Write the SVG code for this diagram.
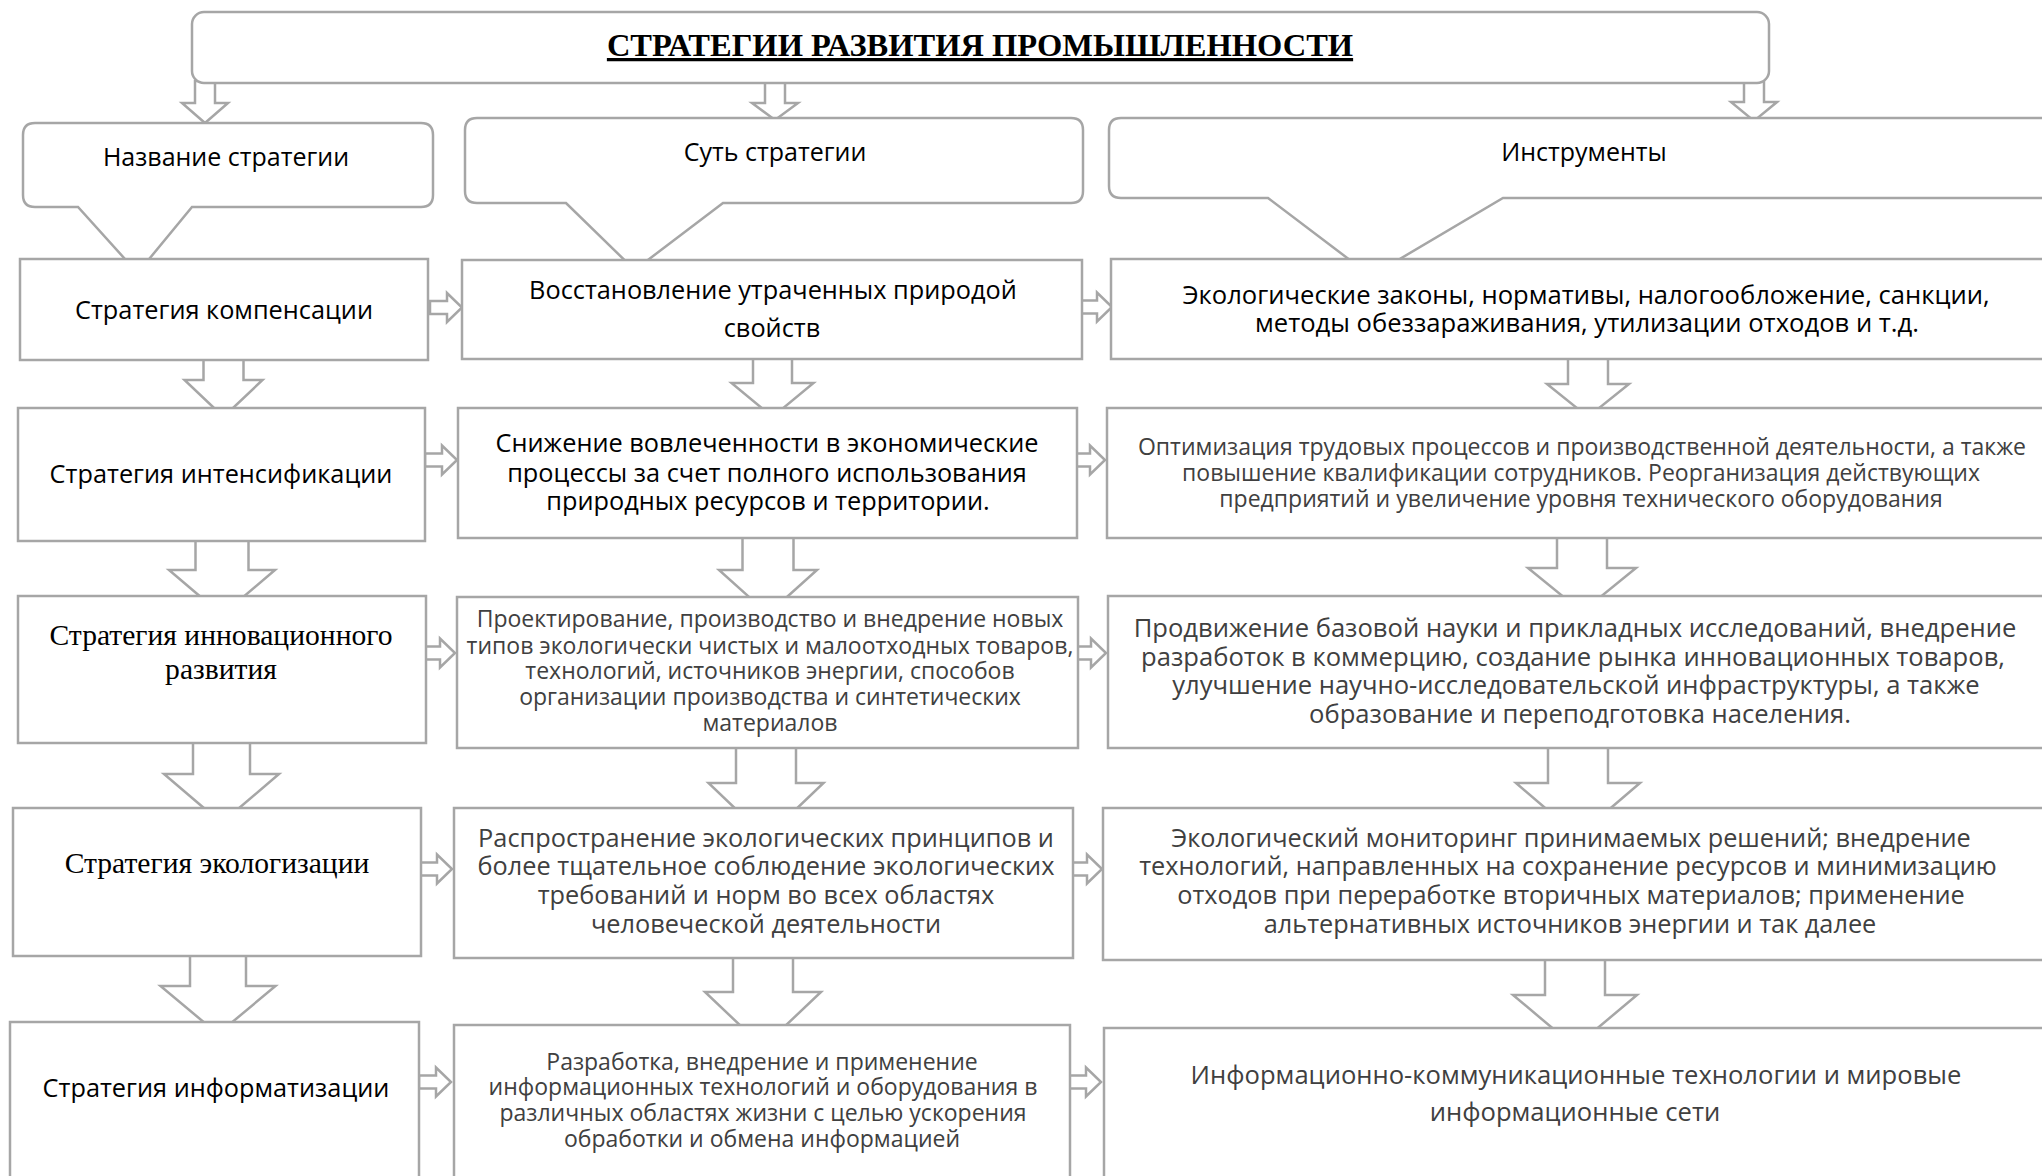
<svg xmlns="http://www.w3.org/2000/svg" xmlns:xlink="http://www.w3.org/1999/xlink" width="2042" height="1176" viewBox="0 0 2042 1176">
<style>
.box{fill:#fff;stroke:#a6a6a6;stroke-width:2.5}
.arr{fill:#fff;stroke:#a6a6a6;stroke-width:2.5;stroke-linejoin:miter}
text{font-family:"Open Sans","Noto Sans",sans-serif;text-anchor:middle}
.k{fill:#000}
.g{fill:#404040}
.s25{font-size:25.3px}
.s26{font-size:25.6px}
.s24{font-size:25px}
.s22{font-size:23px}
.serif{font-family:"Liberation Serif","Times New Roman",serif;font-size:29.6px;fill:#000}
.title{font-family:"Liberation Serif","Times New Roman",serif;font-weight:bold;font-size:32.5px;text-decoration:underline;fill:#000}
</style>
<defs>
<path id="harr" class="arr" d="M-32,-6.5H-15V-14.5L0,0L-15,14.5V6.5H-32Z"/>
</defs>
<rect width="2042" height="1176" fill="#fff"/>
<g id="connectors">
<polygon class="arr" points="195,81 195,103 182,103 205,123 228,103 215,103 215,81"/>
<polygon class="arr" points="765,81 765,103 752,103 775,120 798,103 785,103 785,81"/>
<polygon class="arr" points="1744,81 1744,102 1731,102 1754,121 1777,102 1764,102 1764,81"/>
<polygon class="arr" points="203.5,357 203.5,380 184.5,380 223.5,417 262.5,380 243.5,380 243.5,357"/>
<polygon class="arr" points="195.5,538 195.5,570 169,570 222,615 275,570 248.5,570 248.5,538"/>
<polygon class="arr" points="193,740 193,774 164,774 221.5,823 279,774 250,774 250,740"/>
<polygon class="arr" points="190,953 190,986 160.5,986 218,1034 275.5,986 246,986 246,953"/>
<polygon class="arr" points="753,356 753,383 731.5,383 772.5,417 813.5,383 792,383 792,356"/>
<polygon class="arr" points="742.5,535 742.5,570 719,570 768,614 817,570 793.5,570 793.5,535"/>
<polygon class="arr" points="736,745 736,783 708.5,783 766,838 823.5,783 796,783 796,745"/>
<polygon class="arr" points="733,954 733,992 705,992 763,1047 821,992 793,992 793,954"/>
<polygon class="arr" points="1568,356 1568,384 1547,384 1588,417 1629,384 1608,384 1608,356"/>
<polygon class="arr" points="1557,535 1557,568 1528,568 1582,612 1636,568 1607,568 1607,535"/>
<polygon class="arr" points="1548,745 1548,783 1516,783 1578,836 1640,783 1608,783 1608,745"/>
<polygon class="arr" points="1545,957 1545,995 1513,995 1575,1047 1637,995 1605,995 1605,957"/>
<use xlink:href="#harr" x="462" y="307.5"/>
<use xlink:href="#harr" x="1112" y="307"/>
<use xlink:href="#harr" x="457" y="460"/>
<use xlink:href="#harr" x="1105" y="460"/>
<use xlink:href="#harr" x="455" y="653"/>
<use xlink:href="#harr" x="1106" y="653"/>
<use xlink:href="#harr" x="452" y="869"/>
<use xlink:href="#harr" x="1102" y="869"/>
<use xlink:href="#harr" x="451" y="1082"/>
<use xlink:href="#harr" x="1101" y="1082"/>
</g>
<g id="title">
<rect class="box" x="192" y="12" width="1577" height="71" rx="12"/>
<text class="title" x="980" y="56">СТРАТЕГИИ РАЗВИТИЯ ПРОМЫШЛЕННОСТИ</text>
</g>
<g id="h-name">
<path class="box" d="M35,123H421Q433,123 433,135V195Q433,207 421,207H192L137.6,273L78,207H35Q23,207 23,195V135Q23,123 35,123Z"/>
<text class="k s24" x="226" y="166">Название стратегии</text>
</g>
<g id="h-essence">
<path class="box" d="M477,118H1071Q1083,118 1083,130V191Q1083,203 1071,203H723L634.7,270L566,203H477Q465,203 465,191V130Q465,118 477,118Z"/>
<text class="k s24" x="775" y="161">Суть стратегии</text>
</g>
<g id="h-tools">
<path class="box" d="M1121,118H2070V198H1503L1371,276L1268,198H1121Q1109,198 1109,186V130Q1109,118 1121,118Z"/>
<text class="k s24" x="1584" y="161">Инструменты</text>
</g>
<g id="r1c1">
<rect class="box" x="20" y="259" width="408" height="101"/>
<text class="k s25" x="224" y="319">Стратегия компенсации</text>
</g>
<g id="r1c2">
<rect class="box" x="462" y="260" width="620" height="99"/>
<text class="k s25" x="773" y="299">Восстановление утраченных природой</text>
<text class="k s25" x="772" y="337">свойств</text>
</g>
<g id="r1c3">
<rect class="box" x="1111" y="259" width="960" height="100"/>
<text class="k s26" x="1586" y="304">Экологические законы, нормативы, налогообложение, санкции,</text>
<text class="k s26" x="1587" y="332">методы обеззараживания, утилизации отходов и т.д.</text>
</g>
<g id="r2c1">
<rect class="box" x="18" y="408" width="407" height="133"/>
<text class="k s25" x="221" y="483">Стратегия интенсификации</text>
</g>
<g id="r2c2">
<rect class="box" x="458" y="408" width="619" height="130"/>
<text class="k s25" x="767" y="452">Снижение вовлеченности в экономические</text>
<text class="k s25" x="767" y="482">процессы за счет полного использования</text>
<text class="k s25" x="768" y="510">природных ресурсов и территории.</text>
</g>
<g id="r2c3">
<rect class="box" x="1107" y="408" width="960" height="130"/>
<text class="g s22" x="1582" y="455">Оптимизация трудовых процессов и производственной деятельности, а также</text>
<text class="g s22" x="1581" y="481">повышение квалификации сотрудников. Реорганизация действующих</text>
<text class="g s22" x="1581" y="507">предприятий и увеличение уровня технического оборудования</text>
</g>
<g id="r3c1">
<rect class="box" x="18" y="596" width="408" height="147"/>
<text class="serif" x="221" y="645">Стратегия инновационного</text>
<text class="serif" x="221" y="679">развития</text>
</g>
<g id="r3c2">
<rect class="box" x="457" y="597" width="621" height="151"/>
<text class="g s22" x="770" y="627">Проектирование, производство и внедрение новых</text>
<text class="g s22" x="770" y="654">типов экологически чистых и малоотходных товаров,</text>
<text class="g s22" x="770" y="679">технологий, источников энергии, способов</text>
<text class="g s22" x="770" y="705">организации производства и синтетических</text>
<text class="g s22" x="770" y="731">материалов</text>
</g>
<g id="r3c3">
<rect class="box" x="1108" y="596" width="960" height="152"/>
<text class="g s26" x="1575" y="637">Продвижение базовой науки и прикладных исследований, внедрение</text>
<text class="g s26" x="1573" y="666">разработок в коммерцию, создание рынка инновационных товаров,</text>
<text class="g s26" x="1576" y="694">улучшение научно-исследовательской инфраструктуры, а также</text>
<text class="g s26" x="1580" y="723">образование и переподготовка населения.</text>
</g>
<g id="r4c1">
<rect class="box" x="13" y="808" width="408" height="148"/>
<text class="serif" x="217" y="873">Стратегия экологизации</text>
</g>
<g id="r4c2">
<rect class="box" x="454" y="808" width="619" height="150"/>
<text class="g s25" x="766" y="847">Распространение экологических принципов и</text>
<text class="g s25" x="766" y="875">более тщательное соблюдение экологических</text>
<text class="g s25" x="766" y="904">требований и норм во всех областях</text>
<text class="g s25" x="766" y="933">человеческой деятельности</text>
</g>
<g id="r4c3">
<rect class="box" x="1103" y="808" width="965" height="152"/>
<text class="g s25" x="1571" y="847">Экологический мониторинг принимаемых решений; внедрение</text>
<text class="g s25" x="1568" y="875">технологий, направленных на сохранение ресурсов и минимизацию</text>
<text class="g s25" x="1571" y="904">отходов при переработке вторичных материалов; применение</text>
<text class="g s25" x="1570" y="933">альтернативных источников энергии и так далее</text>
</g>
<g id="r5c1">
<rect class="box" x="10" y="1022" width="409" height="180"/>
<text class="k s25" x="216" y="1097">Стратегия информатизации</text>
</g>
<g id="r5c2">
<rect class="box" x="454" y="1025" width="616" height="180"/>
<text class="g s22" x="762" y="1070">Разработка, внедрение и применение</text>
<text class="g s22" x="763" y="1095">информационных технологий и оборудования в</text>
<text class="g s22" x="763" y="1121">различных областях жизни с целью ускорения</text>
<text class="g s22" x="762" y="1147">обработки и обмена информацией</text>
</g>
<g id="r5c3">
<rect class="box" x="1104" y="1028" width="965" height="180"/>
<text class="g s26" x="1576" y="1084">Информационно-коммуникационные технологии и мировые</text>
<text class="g s26" x="1575" y="1121">информационные сети</text>
</g>
</svg>
